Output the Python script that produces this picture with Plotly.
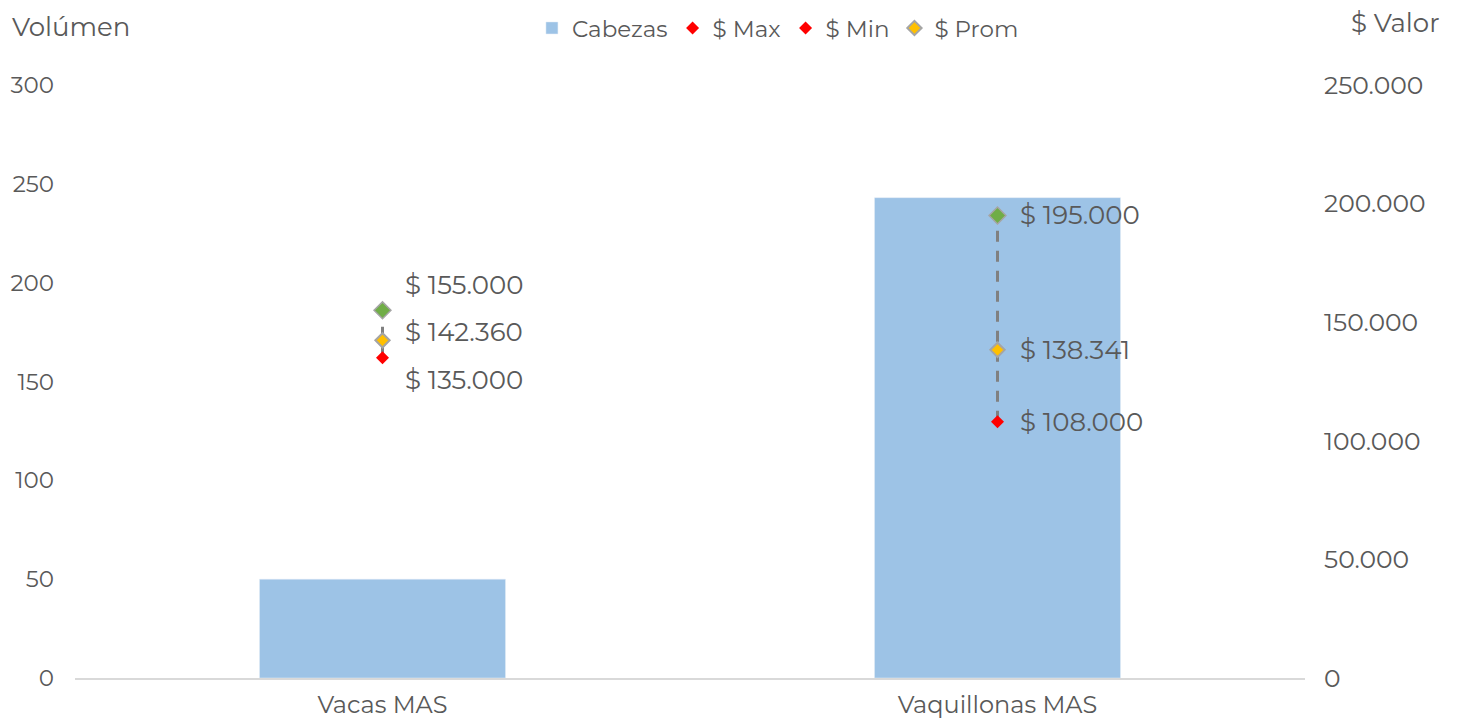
import plotly.graph_objects as go

categories = ["Vacas MAS", "Vaquillonas MAS"]
cabezas = [50, 243]
precio_max = [155000, 195000]
precio_min = [135000, 108000]
precio_prom = [142360, 138341]

# label vertical nudges (px) for the crowded first category, like Excel did
label_shift_max = [25, 0]
label_shift_prom = [8, 0]
label_shift_min = [-22, 0]

GRAY = "#595959"
FONT = "Montserrat, Lato, 'Open Sans', sans-serif"


def fmt_peso(v):
    return "$ " + f"{v:,}".replace(",", ".")


fig = go.Figure()

fig.add_trace(go.Bar(
    x=categories, y=cabezas, name="Cabezas",
    marker=dict(color="#9dc3e6"), width=0.4, yaxis="y",
))

# high-low dashed lines
for i, cat in enumerate(categories):
    fig.add_trace(go.Scatter(
        x=[cat, cat], y=[precio_min[i], precio_max[i]], mode="lines",
        line=dict(color="#808080", width=3, dash="11px,9px"),
        yaxis="y2", showlegend=False, hoverinfo="skip",
    ))

# legend-only entries (Excel legend shows Max in red)
fig.add_trace(go.Scatter(
    x=[None], y=[None], mode="markers", name="$ Max",
    marker=dict(symbol="diamond", color="#ff0000", size=10), yaxis="y2",
))
fig.add_trace(go.Scatter(
    x=categories, y=precio_max, mode="markers", name="$ Max", showlegend=False,
    marker=dict(symbol="diamond", color="#70ad47", size=13,
                line=dict(color="#a5a5a5", width=1.5)), yaxis="y2",
))
fig.add_trace(go.Scatter(
    x=categories, y=precio_min, mode="markers", name="$ Min",
    marker=dict(symbol="diamond", color="#ff0000", size=10), yaxis="y2",
))
fig.add_trace(go.Scatter(
    x=categories, y=precio_prom, mode="markers", name="$ Prom",
    marker=dict(symbol="diamond", color="#ffc000", size=11,
                line=dict(color="#a5a5a5", width=2)), yaxis="y2",
))

for series, shifts in ((precio_max, label_shift_max),
                       (precio_prom, label_shift_prom),
                       (precio_min, label_shift_min)):
    for i, cat in enumerate(categories):
        fig.add_annotation(
            x=cat, y=series[i], xref="x", yref="y2", text=fmt_peso(series[i]),
            showarrow=False, xanchor="left", yanchor="middle",
            xshift=20, yshift=shifts[i], font=dict(size=26, color=GRAY),
        )

fig.add_annotation(
    xref="paper", yref="paper", x=(10 - 75) / 1230, y=1 + (85 - 27) / 593,
    text="Volúmen", showarrow=False, xanchor="left", yanchor="middle",
    font=dict(size=26, color=GRAY))
fig.add_annotation(
    xref="paper", yref="paper", x=(1349 - 75) / 1230, y=1 + (85 - 23) / 593,
    text="$ Valor", showarrow=False, xanchor="left", yanchor="middle",
    font=dict(size=26, color=GRAY))

# page body has an 8px margin, so the plot area is placed 8px up/left
fig.update_layout(
    width=1466, height=720,
    margin=dict(l=67, r=169, t=77, b=50, autoexpand=False),
    paper_bgcolor="white", plot_bgcolor="white",
    font=dict(family=FONT, size=23, color=GRAY),
    separators=",.",
    legend=dict(orientation="h", x=0.5715, xanchor="center",
                y=1 + 57 / 593, yanchor="middle",
                font=dict(size=23, color=GRAY),
                itemwidth=30, tracegroupgap=0),
    xaxis=dict(showgrid=False, showline=True, linecolor="#d9d9d9", linewidth=1.5,
               ticks="", automargin=False, ticklabelstandoff=4,
               tickfont=dict(size=24, color=GRAY)),
    yaxis=dict(range=[0, 300], tickvals=[0, 50, 100, 150, 200, 250, 300],
               showgrid=False, zeroline=False, showline=False, ticks="",
               automargin=False, ticklabelstandoff=20,
               tickfont=dict(size=23, color=GRAY)),
    yaxis2=dict(range=[0, 250000], overlaying="y", side="right",
                tickvals=[0, 50000, 100000, 150000, 200000, 250000],
                tickformat=",d", showgrid=False, zeroline=False, showline=False,
                ticks="", automargin=False, ticklabelstandoff=18,
                tickfont=dict(size=25, color=GRAY)),
)

fig.write_html("out.html")
